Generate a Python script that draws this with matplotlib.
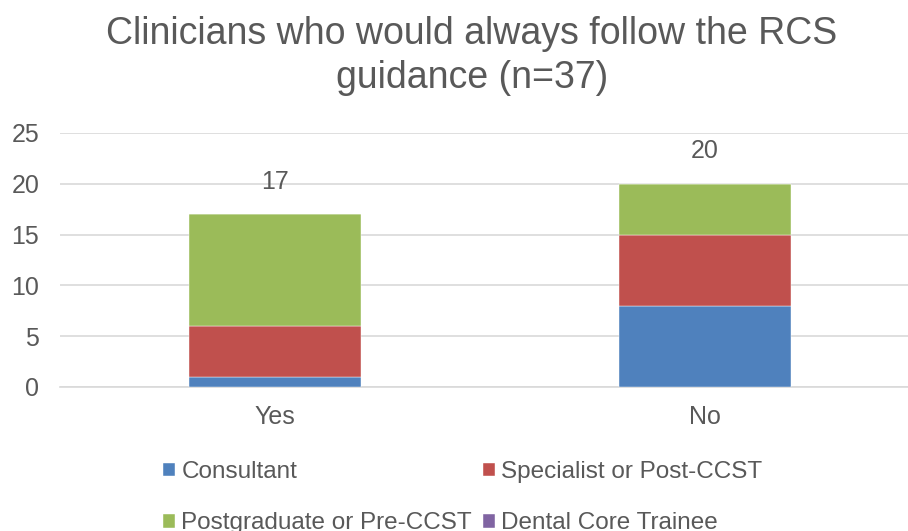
import numpy as np
import matplotlib
matplotlib.use('Agg')
import matplotlib.pyplot as plt

plt.rcParams['font.family'] = ['Liberation Sans', 'DejaVu Sans']

# data
answers = ['Yes', 'No']
groups = ['Consultant', 'Specialist or Post-CCST',
          'Postgraduate or Pre-CCST', 'Dental Core Trainee']
consultant = [1, 8]
specialist = [5, 7]
postgraduate = [11, 5]
dct = [0, 0]
colours = ['#4F81BD', '#C0504D', '#9BBB59', '#8064A2']

grey = '#595959'

fig = plt.figure(figsize=(9.08, 5.31), dpi=100)
ax = fig.add_axes([60 / 908, (531 - 387) / 531, 860 / 908, 254 / 531])

x = np.arange(len(answers))
bottom = np.zeros(len(answers))
bars = []
for vals, name, col in zip([consultant, specialist, postgraduate, dct], groups, colours):
    b = ax.bar(x, vals, 0.4, bottom=bottom, color=col, label=name,
               edgecolor='white', linewidth=0.3, zorder=3)
    bars.append(b)
    bottom += np.array(vals)

# totals above bars
for xi, tot in zip(x, bottom):
    ax.text(xi, tot + 3.2, '%d' % tot, ha='center', va='center',
            fontsize=18, color=grey)

ax.set_xlim(-0.5, 1.5)
ax.set_ylim(0, 25)
ax.set_yticks(range(0, 26, 5))
ax.set_xticks(x)
ax.set_xticklabels(answers)
ax.grid(axis='y', color='#D9D9D9', linewidth=1.2, zorder=0)
for s in ['top', 'right', 'left']:
    ax.spines[s].set_visible(False)
ax.spines['bottom'].set_color('#D9D9D9')
ax.spines['bottom'].set_linewidth(1.2)
ax.tick_params(length=0, labelsize=18, colors=grey)
ax.tick_params(axis='y', pad=15)
ax.tick_params(axis='x', pad=13)

fig.text(472 / 908, 1 - 56 / 531,
         'Clinicians who would always follow the RCS\nguidance (n=37)',
         fontsize=27, color=grey, ha='center', va='center', linespacing=1.3)

# legend filled row by row, like the original
order = [0, 2, 1, 3]
fig.legend([bars[i] for i in order], [groups[i] for i in order],
           loc='upper left', bbox_to_anchor=(151 / 908, 1 - 449 / 531),
           ncol=2, frameon=False, fontsize=17.5, labelcolor=grey,
           handlelength=0.5, handleheight=0.5, handletextpad=0.25,
           columnspacing=0.45, labelspacing=1.2, borderpad=0)

fig.savefig('out.png', dpi=100)
